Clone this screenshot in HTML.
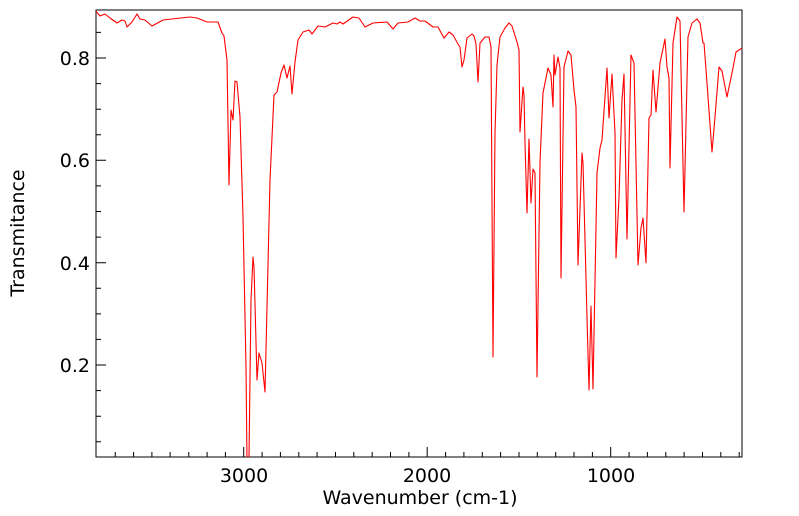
<!DOCTYPE html>
<html><head><meta charset="utf-8"><style>
html,body{margin:0;padding:0;background:#fff;}
svg{display:block;}
text{font-family:"DejaVu Sans","Liberation Sans",sans-serif;fill:#000;}
</style></head><body>
<svg width="799" height="516" viewBox="0 0 799 516" xmlns="http://www.w3.org/2000/svg">
<defs><clipPath id="c"><rect x="96" y="10" width="646" height="447"/></clipPath></defs>
<rect x="96" y="10" width="646" height="447" fill="none" stroke="#000" stroke-width="1"/>
<path stroke="#000" stroke-width="1" fill="none" d="
M115.25 457v-5 M133.6 457v-5 M151.9 457v-5 M170.1 457v-5 M188.8 457v-5 M207.1 457v-5 M225.4 457v-5 M243.7 457v-10 M262.1 457v-5 M280.4 457v-5 M298.8 457v-5 M317.1 457v-5 M335.5 457v-5 M353.8 457v-5 M372.2 457v-5 M390.5 457v-5 M408.9 457v-5 M427.2 457v-10 M445.6 457v-5 M463.9 457v-5 M482.3 457v-5 M500.6 457v-5 M519 457v-5 M537.3 457v-5 M555.7 457v-5 M574 457v-5 M592.4 457v-5 M610.7 457v-10 M629.1 457v-5 M647.4 457v-5 M665.8 457v-5 M684.1 457v-5 M702.5 457v-5 M720.8 457v-5 M739.2 457v-5
M96 441.8h5 M96 416.2h5 M96 390.6h5 M96 365h10 M96 339.4h5 M96 313.9h5 M96 288.3h5 M96 262.7h10 M96 237.1h5 M96 211.5h5 M96 185.9h5 M96 160.3h10 M96 134.8h5 M96 109.2h5 M96 83.6h5 M96 58h10 M96 32.4h5"/>
<polyline clip-path="url(#c)" fill="none" stroke="#ff0000" stroke-width="1.1" stroke-linejoin="round" points="
95,10 100,16 105,14 110,18 117,23 122,20 125,21 127,27 132,22 137,14 140,19 145,20 152,26 163,20 190,17 197,18 207,22 218,22 222,33 224,36 227,60 229,185 231,110 233,120 235,81 237,82 240,117 243,217 246,367 247,463 249,457 251,300 253,257 254,267 257,380 259,353 262,363 265,392 270,180 274,95 277,92 281,73 284,65 287,78 290,66 292,94 295,62 298,40 303,32 309,30 312,34 318,26 325,27 333,23 337,24 340,22 343,24 353,17 359,18 365,27 373,23 387,22 393,29 398,23 408,22 415,18 420,21 425,21 433,27 438,27 444,38 449,32 453,35 458,44 460,47 462,67 464,60 467,38 472,34 474,36 476,44 478,82 480,43 485,37 489,37 491,47 493,357 495,133 497,65 500,37 505,28 509,23 512,26 517,42 519,50 520,132 523,87 524,95 525,143 527,213 529,139 531,203 533,169 535,173 537,377 540,162 543,93 548,68 551,75 553,107 554,55 555,75 558,57 560,68 561,278 564,67 568,51 571,55 574,90 576,107 578,265 582,153 583,163 587,317 589,390 591,306 593,389 597,173 600,148 602,140 607,68 609,118 612,74 615,133 616,258 619,198 622,100 624,74 627,239 631,55 634,63 638,265 641,228 643,218 646,263 649,118 651,115 653,70 656,112 660,63 665,39 667,67 669,78 670,168 673,43 677,17 680,21 684,212 688,37 692,23 697,19 700,23 703,43 704,43 707,83 712,152 715,117 719,67 722,71 727,97 733,68 736,52 742,48"/>
<g font-size="19">
<text x="90" y="65" text-anchor="end">0.8</text>
<text x="90" y="167" text-anchor="end">0.6</text>
<text x="90" y="270" text-anchor="end">0.4</text>
<text x="90" y="372" text-anchor="end">0.2</text>
<text x="244" y="482" text-anchor="middle">3000</text>
<text x="427" y="482" text-anchor="middle">2000</text>
<text x="611" y="482" text-anchor="middle">1000</text>
<text x="420" y="504" text-anchor="middle">Wavenumber (cm-1)</text>
<text transform="translate(24,233) rotate(-90)" text-anchor="middle">Transmitance</text>
</g>
</svg>
</body></html>
